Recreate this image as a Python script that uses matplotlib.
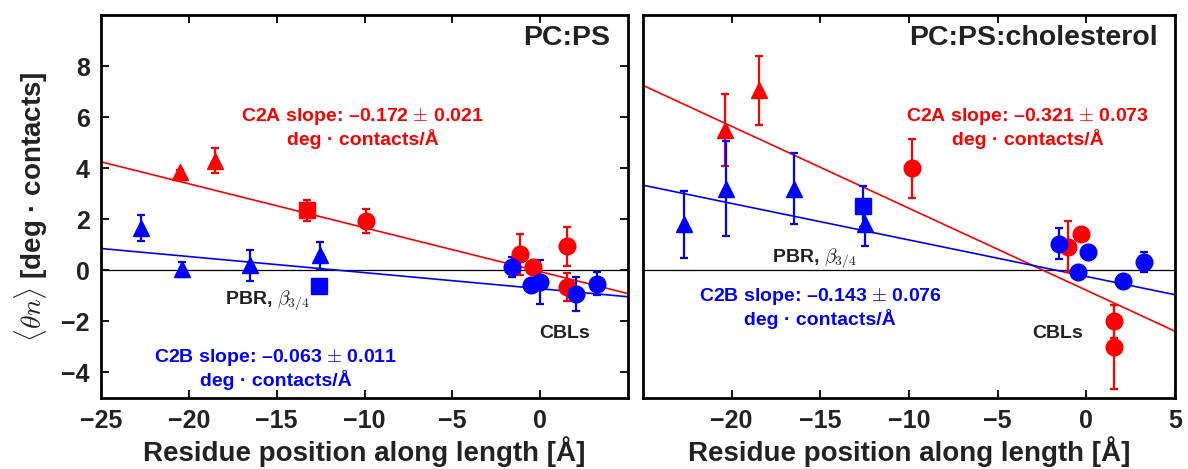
import numpy as np
import matplotlib
matplotlib.use('Agg')
import matplotlib.pyplot as plt

plt.rcParams['font.family'] = ['Liberation Sans', 'DejaVu Sans']
plt.rcParams['font.weight'] = 'bold'
plt.rcParams['mathtext.fontset'] = 'cm'

RED = '#ff0000'
BLUE = '#0000ff'

# ---- PC:PS (left) ----
l_c2a_tri_x = [-20.5, -18.5]
l_c2a_tri_y = [3.84, 4.3]
l_c2a_tri_e = [0.1, 0.5]
l_c2a_sq_x = [-13.3]
l_c2a_sq_y = [2.35]
l_c2a_sq_e = [0.42]
l_c2a_ci_x = [-9.9, -1.15, -0.4, 1.55, 1.5]
l_c2a_ci_y = [1.93, 0.63, 0.13, 0.94, -0.65]
l_c2a_ci_e = [0.47, 0.8, 0.1, 0.77, 0.55]

l_c2b_tri_x = [-22.7, -20.4, -16.5, -12.56]
l_c2b_tri_y = [1.66, 0.04, 0.2, 0.59]
l_c2b_tri_e = [0.52, 0.3, 0.6, 0.52]
l_c2b_sq_x = [-12.6]
l_c2b_sq_y = [-0.63]
l_c2b_sq_e = [0.0]
l_c2b_ci_x = [-1.6, -0.53, 0.0, 2.06, 3.26]
l_c2b_ci_y = [0.13, -0.59, -0.46, -0.92, -0.52]
l_c2b_ci_e = [0.4, 0.0, 0.85, 0.67, 0.45]

l_fit_c2a = (-0.172, -0.05)
l_fit_c2b = (-0.063, -0.72)

# ---- PC:PS:cholesterol (right) ----
r_c2a_tri_x = [-20.4, -18.46]
r_c2a_tri_y = [5.49, 7.06]
r_c2a_tri_e = [1.4, 1.35]
r_c2a_ci_x = [-9.84, -1.05, -0.3, 1.54, 1.54]
r_c2a_ci_y = [3.99, 0.92, 1.44, -1.99, -3.0]
r_c2a_ci_e = [1.14, 1.0, 0.0, 0.65, 1.65]

r_c2b_tri_x = [-22.69, -20.34, -16.5, -12.47]
r_c2b_tri_y = [1.8, 3.2, 3.2, 1.8]
r_c2b_tri_e = [1.3, 1.87, 1.38, 0.85]
r_c2b_sq_x = [-12.6]
r_c2b_sq_y = [2.5]
r_c2b_sq_e = [0.8]
r_c2b_ci_x = [-1.56, 0.07, -0.49, 2.08, 3.27]
r_c2b_ci_y = [1.05, 0.72, -0.07, -0.42, 0.33]
r_c2b_ci_e = [0.59, 0.0, 0.0, 0.0, 0.4]

r_fit_c2a = (-0.321, -0.78)
r_fit_c2b = (-0.143, -0.24)

fig = plt.figure(figsize=(11.88, 4.69), dpi=100)
ax1 = fig.add_axes([101 / 1188, 71 / 469, 527 / 1188, 383 / 469])
ax2 = fig.add_axes([643 / 1188, 71 / 469, 532 / 1188, 383 / 469])

ANN = 14
DARK = '#222222'


def pts(ax, x, y, e, color, marker, ms):
    ax.errorbar(x, y, yerr=e, fmt=marker, color=color, ms=ms, mec=color,
                ecolor=color, elinewidth=1.6, capsize=3, capthick=1.6, zorder=3)


def fit(ax, slope, icpt, color):
    xx = np.array([-25, 5])
    ax.plot(xx, slope * xx + icpt, color=color, lw=1.2, zorder=2)


def slope_text(ax, x, y, name, val, err, color):
    ax.text(x, y, f'{name} slope: \u2013{val} $\\pm$ {err}\ndeg \u00b7 contacts/Å',
            color=color, fontsize=ANN, fontweight='bold', ha='center', va='center',
            linespacing=1.1)


for ax in (ax1, ax2):
    ax.set_xlim(-25, 5)
    ax.set_ylim(-5, 10)
    ax.axhline(0, color='black', lw=0.9, zorder=1)
    for s in ax.spines.values():
        s.set_linewidth(2)
    ax.set_xlabel('Residue position along length [Å]', fontsize=20, fontweight='bold',
                  labelpad=2, color=DARK)
    ax.tick_params(direction='in', length=6, width=1.3, labelsize=18, top=True, pad=8,
                   labelcolor=DARK)

# left panel
fit(ax1, *l_fit_c2a, RED)
fit(ax1, *l_fit_c2b, BLUE)
pts(ax1, l_c2a_tri_x, l_c2a_tri_y, l_c2a_tri_e, RED, '^', 11)
pts(ax1, l_c2a_sq_x, l_c2a_sq_y, l_c2a_sq_e, RED, 's', 12)
pts(ax1, l_c2a_ci_x, l_c2a_ci_y, l_c2a_ci_e, RED, 'o', 12)
pts(ax1, l_c2b_tri_x, l_c2b_tri_y, l_c2b_tri_e, BLUE, '^', 11)
pts(ax1, l_c2b_sq_x, l_c2b_sq_y, l_c2b_sq_e, BLUE, 's', 12)
pts(ax1, l_c2b_ci_x, l_c2b_ci_y, l_c2b_ci_e, BLUE, 'o', 12)
ax1.set_xticks([-25, -20, -15, -10, -5, 0])
ax1.set_yticks([-4, -2, 0, 2, 4, 6, 8])
ax1.set_yticklabels(['\u22124', '\u22122', '0', '2', '4', '6', '8'])
ax1.set_xticklabels(['\u221225', '\u221220', '\u221215', '\u221210', '\u22125', '0'])
ax1.tick_params(axis='y', right=True)
ax1.set_ylabel(r'$\langle \theta n \rangle$ [deg · contacts]', fontsize=20,
               fontweight='bold', labelpad=8, color=DARK)
ax1.text(4.0, 9.1, 'PC:PS', fontsize=20.5, fontweight='bold', color=DARK,
         ha='right', va='center')
slope_text(ax1, -10.1, 5.6, 'C2A', '0.172', '0.021', RED)
slope_text(ax1, -15.05, -3.85, 'C2B', '0.063', '0.011', BLUE)
ax1.text(-15.5, -1.18, 'PBR, $\\beta_{3/4}$', color=DARK, fontsize=ANN,
         fontweight='bold', ha='center', va='center')
ax1.text(1.4, -2.47, 'CBLs', color=DARK, fontsize=ANN, fontweight='bold',
         ha='center', va='center')

# right panel
fit(ax2, *r_fit_c2a, RED)
fit(ax2, *r_fit_c2b, BLUE)
pts(ax2, r_c2a_tri_x, r_c2a_tri_y, r_c2a_tri_e, RED, '^', 11)
pts(ax2, r_c2a_ci_x, r_c2a_ci_y, r_c2a_ci_e, RED, 'o', 12)
pts(ax2, r_c2b_tri_x, r_c2b_tri_y, r_c2b_tri_e, BLUE, '^', 11)
pts(ax2, r_c2b_sq_x, r_c2b_sq_y, r_c2b_sq_e, BLUE, 's', 12)
pts(ax2, r_c2b_ci_x, r_c2b_ci_y, r_c2b_ci_e, BLUE, 'o', 12)
ax2.set_xticks([-20, -15, -10, -5, 0, 5])
ax2.set_xticklabels(['\u221220', '\u221215', '\u221210', '\u22125', '0', '5'])
ax2.set_yticks([])
ax2.text(4.0, 9.1, 'PC:PS:cholesterol', fontsize=20.5, fontweight='bold', color=DARK,
         ha='right', va='center')
slope_text(ax2, -3.3, 5.6, 'C2A', '0.321', '0.073', RED)
slope_text(ax2, -15.0, -1.45, 'C2B', '0.143', '0.076', BLUE)
ax2.text(-15.3, 0.47, 'PBR, $\\beta_{3/4}$', color=DARK, fontsize=ANN,
         fontweight='bold', ha='center', va='center')
ax2.text(-1.6, -2.47, 'CBLs', color=DARK, fontsize=ANN, fontweight='bold',
         ha='center', va='center')

fig.savefig('out.png', dpi=100)
